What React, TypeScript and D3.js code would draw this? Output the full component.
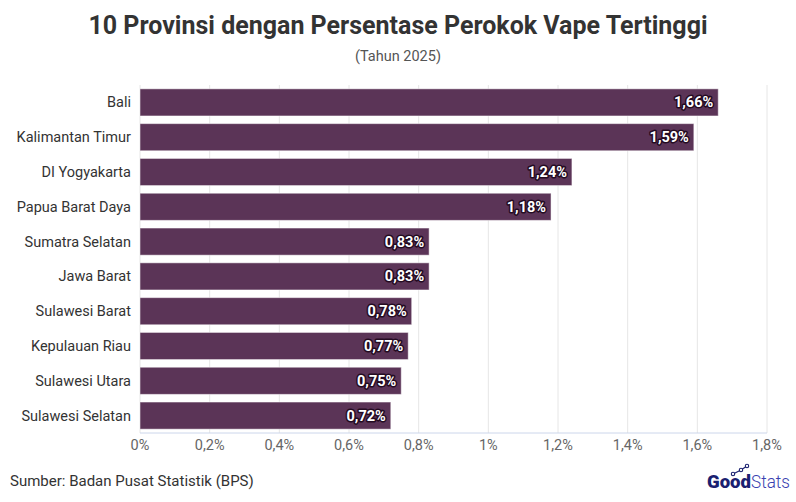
import React from "react";
import * as d3 from "d3";

const provinces = [
  "Bali",
  "Kalimantan Timur",
  "DI Yogyakarta",
  "Papua Barat Daya",
  "Sumatra Selatan",
  "Jawa Barat",
  "Sulawesi Barat",
  "Kepulauan Riau",
  "Sulawesi Utara",
  "Sulawesi Selatan",
];
const values = [1.66, 1.59, 1.24, 1.18, 0.83, 0.83, 0.78, 0.77, 0.75, 0.72];
const ticks = [0, 0.2, 0.4, 0.6, 0.8, 1, 1.2, 1.4, 1.6, 1.8];

const W = 796;
const H = 502;
const left = 140;
const right = 767;
const top = 85;
const bottom = 433;

const fmt = (v: number) => String(+v.toFixed(2)).replace(".", ",") + "%";

const App: React.FC = () => {
  const x = d3.scaleLinear().domain([0, 1.8]).range([left, right]);
  const y = d3.scaleBand<string>().domain(provinces).range([top, bottom]).paddingInner(0.22).paddingOuter(0.11);
  const font = "Roboto, 'Open Sans', sans-serif";

  return (
    <svg width={W} height={H} style={{ position: "absolute", left: 0, top: 0, background: "#fff" }} fontFamily={font}>
      <text x={W / 2} y={34} textAnchor="middle" fontSize={25} fontWeight={700} fill="#333">
        10 Provinsi dengan Persentase Perokok Vape Tertinggi
      </text>
      <text x={W / 2} y={61} textAnchor="middle" fontSize={14.5} fill="#555">
        (Tahun 2025)
      </text>

      {ticks.map((t) => (
        <g key={t}>
          <line x1={x(t)} x2={x(t)} y1={top} y2={bottom} stroke="#e6e6e6" strokeWidth={1} />
          <text x={x(t)} y={bottom + 17} textAnchor="middle" fontSize={14.5} fill="#666">
            {fmt(t)}
          </text>
        </g>
      ))}
      <line x1={left} x2={right} y1={bottom} y2={bottom} stroke="#ccd6eb" strokeWidth={1} />

      {provinces.map((p, i) => {
        const yy = y(p)!;
        const bw = y.bandwidth();
        return (
          <g key={p}>
            <text x={left - 9} y={yy + bw / 2} dy="0.35em" textAnchor="end" fontSize={14.5} fill="#333">
              {p}
            </text>
            <rect x={x(0)} y={yy} width={x(values[i]) - x(0)} height={bw} fill="#5b3457" stroke="#ffffff" strokeOpacity={0.5} strokeWidth={1} />
            <text
              x={x(values[i]) - 5}
              y={yy + bw / 2}
              dy="0.35em"
              textAnchor="end"
              fontSize={14.5}
              fontWeight={700}
              fill="#fff"
              stroke="#240b22"
              strokeWidth={3}
              strokeLinejoin="round"
              paintOrder="stroke"
            >
              {fmt(values[i])}
            </text>
          </g>
        );
      })}

      <text x={10} y={486} fontSize={15} fill="#333">
        Sumber: Badan Pusat Statistik (BPS)
      </text>
      <g>
        <text x={707} y={488} fontSize={18} fontWeight={900} fill="#1a2070" textLength={44} lengthAdjust="spacingAndGlyphs">
          Good
        </text>
        <text x={751} y={488} fontSize={18} fontWeight={300} fill="#3a3fb0" textLength={39} lengthAdjust="spacingAndGlyphs">
          Stats
        </text>
        <polyline points="733,474 741,470 747,466" fill="none" stroke="#1a2070" strokeWidth={1.2} />
        <circle cx={733} cy={474} r={1.7} fill="#fff" stroke="#1a2070" strokeWidth={1.1} />
        <circle cx={741} cy={470} r={1.7} fill="#fff" stroke="#1a2070" strokeWidth={1.1} />
        <circle cx={747} cy={466} r={1.7} fill="#fff" stroke="#1a2070" strokeWidth={1.1} />
      </g>
    </svg>
  );
};

export default App;
